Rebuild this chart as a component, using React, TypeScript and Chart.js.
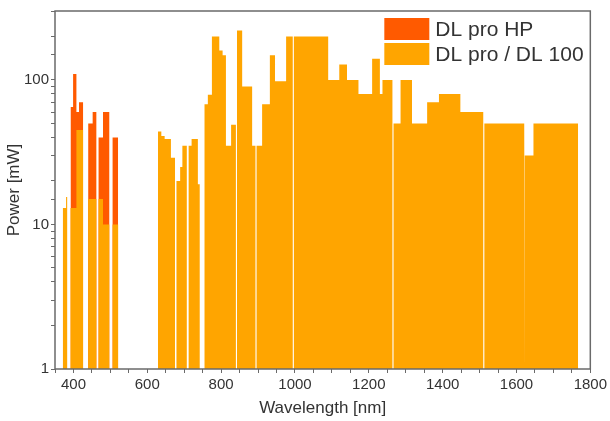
import React, { useEffect, useRef } from 'react';
import { Chart, registerables } from 'chart.js';

Chart.register(...registerables);

// ---- Data -------------------------------------------------------------
const hpLabel = 'DL pro HP';
const dlLabel = 'DL pro / DL 100';

// DL pro HP bands (nm) and power (mW)
const hpStart = [392, 399, 408, 415, 440, 452, 468, 480, 506];
const hpEnd = [399, 408, 415, 426, 452, 462, 480, 497, 521];
const hpPower = [65, 110, 60, 70, 50, 60, 40, 60, 40];

// DL pro / DL 100 bands (nm) and power (mW)
const dlStart = [
  371, 380, 392, 408, 440, 468, 480, 506,
  629, 638, 647, 664, 679, 689, 695, 712, 720, 737,
  755, 764, 775, 795, 804, 813, 827, 843, 857, 884,
  896, 911, 932, 946, 976, 997, 1090, 1120, 1141, 1172,
  1209, 1230, 1237, 1267, 1286, 1317, 1358, 1390, 1448, 1513,
  1623, 1646,
];
const dlEnd = [
  380, 383, 408, 426, 462, 480, 497, 521,
  638, 647, 664, 675, 689, 695, 707, 720, 737, 742,
  764, 775, 795, 804, 813, 827, 840, 857, 884, 893,
  911, 932, 946, 976, 994, 1090, 1120, 1141, 1172, 1209,
  1230, 1237, 1264, 1286, 1317, 1358, 1390, 1448, 1510, 1621,
  1646, 1767,
];
const dlPower = [
  13, 15.5, 13, 45, 15, 15, 10, 10,
  44, 41, 39, 29, 20, 25, 35, 35, 39, 19,
  68, 79, 200, 160, 148, 35, 49, 220, 90, 35,
  35, 68, 148, 98, 200, 200, 100, 128, 100, 80,
  140, 80, 100, 50, 100, 50, 70, 80, 60, 50,
  30, 50,
];

const xMin = 350;
const xMax = 1800;
const xMajorTicks = [400, 600, 800, 1000, 1200, 1400, 1600, 1800];
const xMinorStep = 50;
const yMin = 1;
const yMax = 300;
const yLabelTicks = [1, 10, 100];

const hpColor = '#FF5A00';
const dlColor = '#FFA500';
const textColor = '#333333';
const axisColor = '#6a6a6a';
const fontFamily = '"Liberation Sans", Arial, Helvetica, sans-serif';

// Build outline points (rectangles from the baseline) for a filled line
function toOutline(starts: number[], ends: number[], powers: number[], base: number) {
  const pts: { x: number; y: number }[] = [];
  for (let i = 0; i < starts.length; i++) {
    const joinedPrev = i > 0 && starts[i] === ends[i - 1];
    if (!joinedPrev) pts.push({ x: starts[i], y: base });
    pts.push({ x: starts[i], y: powers[i] });
    pts.push({ x: ends[i], y: powers[i] });
    const joinedNext = i < starts.length - 1 && starts[i + 1] === ends[i];
    if (!joinedNext) pts.push({ x: ends[i], y: base });
  }
  return pts;
}

const framePlugin = {
  id: 'frameAndLegend',
  afterDatasetsDraw(chart: any) {
    const { ctx, chartArea } = chart;
    ctx.save();
    ctx.strokeStyle = axisColor;
    ctx.lineWidth = 1.5;
    ctx.strokeRect(chartArea.left, chartArea.top, chartArea.right - chartArea.left, chartArea.bottom - chartArea.top);
    ctx.restore();
  },
  afterDraw(chart: any) {
    const { ctx, chartArea } = chart;
    const boxX = chartArea.right - 206;
    const boxW = 45;
    const boxH = 22;
    const rowTop = chartArea.top + 7;
    const rowGap = 25;
    ctx.save();
    ctx.font = `21px ${fontFamily}`;
    ctx.textBaseline = 'middle';
    ctx.textAlign = 'left';
    chart.data.datasets.forEach((ds: any, i: number) => {
      const y = rowTop + i * rowGap;
      ctx.fillStyle = ds.backgroundColor;
      ctx.fillRect(boxX, y, boxW, boxH);
      ctx.fillStyle = textColor;
      ctx.fillText(ds.label, boxX + boxW + 6, y + boxH / 2 + 1);
    });
    ctx.restore();
  },
};

export default function App() {
  const canvasRef = useRef<HTMLCanvasElement | null>(null);

  useEffect(() => {
    if (!canvasRef.current) return;
    const chart = new Chart(canvasRef.current, {
      type: 'line',
      data: {
        datasets: [
          {
            label: hpLabel,
            data: toOutline(hpStart, hpEnd, hpPower, yMin),
            backgroundColor: hpColor,
            borderWidth: 0,
            pointRadius: 0,
            fill: 'start',
            order: 2,
          },
          {
            label: dlLabel,
            data: toOutline(dlStart, dlEnd, dlPower, yMin),
            backgroundColor: dlColor,
            borderWidth: 0,
            pointRadius: 0,
            fill: 'start',
            order: 1,
          },
        ],
      },
      options: {
        animation: false,
        responsive: false,
        devicePixelRatio: 1,
        layout: { padding: { top: 5, right: 18, left: 0, bottom: 0 } },
        plugins: {
          legend: { display: false },
          tooltip: { enabled: false },
        },
        elements: { line: { tension: 0 } },
        scales: {
          x: {
            type: 'linear',
            min: xMin,
            max: xMax,
            border: { display: false },
            grid: { drawOnChartArea: false, drawTicks: true, tickLength: 4, color: axisColor },
            afterBuildTicks: (scale: any) => {
              const ticks = [];
              for (let v = xMin; v <= xMax; v += xMinorStep) ticks.push({ value: v });
              scale.ticks = ticks;
            },
            afterFit: (scale: any) => {
              scale.height = 52;
            },
            ticks: {
              autoSkip: false,
              maxRotation: 0,
              padding: 3,
              color: textColor,
              font: { family: fontFamily, size: 15 },
              callback: (v: any) => (xMajorTicks.includes(Number(v)) ? String(v) : ''),
            },
            title: {
              display: true,
              text: 'Wavelength [nm]',
              color: textColor,
              font: { family: fontFamily, size: 17 },
              padding: { top: 0, bottom: 2 },
            },
          },
          y: {
            type: 'logarithmic',
            min: yMin,
            max: yMax,
            border: { display: false },
            grid: { drawOnChartArea: false, drawTicks: true, tickLength: 4, color: axisColor },
            afterFit: (scale: any) => {
              scale.width = 55;
            },
            ticks: {
              autoSkip: false,
              padding: 2,
              color: textColor,
              font: { family: fontFamily, size: 15 },
              callback: (v: any) => (yLabelTicks.includes(Number(v)) ? String(v) : ''),
            },
            title: {
              display: true,
              text: 'Power [mW]',
              color: textColor,
              font: { family: fontFamily, size: 17 },
              padding: { top: 4, bottom: 0 },
            },
          },
        },
      },
      plugins: [framePlugin],
    } as any);
    return () => chart.destroy();
  }, []);

  return (
    <div style={{ position: 'absolute', left: 0, top: 0, width: 610, height: 421, background: '#fff' }}>
      <canvas ref={canvasRef} width={610} height={421} style={{ display: 'block' }} />
    </div>
  );
}
